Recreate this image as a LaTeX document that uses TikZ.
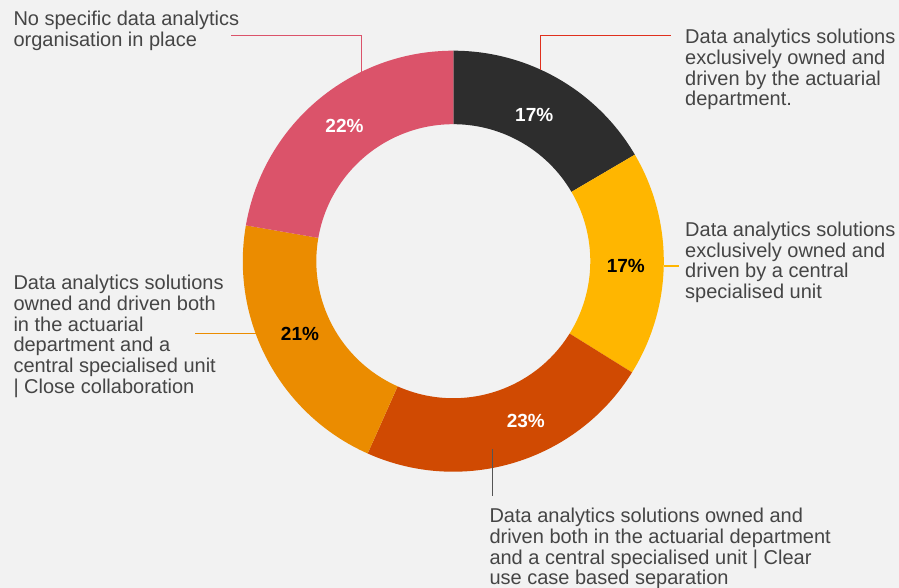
\documentclass[tikz,border=0pt]{standalone}
\usepackage{fontspec}
\setmainfont{Liberation Sans}
\usetikzlibrary{calc}
\definecolor{bg}{HTML}{F2F2F2}
\definecolor{cblack}{HTML}{2D2D2D}
\definecolor{cyellow}{HTML}{FFB600}
\definecolor{cdark}{HTML}{D04A02}
\definecolor{corange}{HTML}{EB8C00}
\definecolor{cpink}{HTML}{DB536A}
\definecolor{cred}{HTML}{E0301E}
\definecolor{txt}{HTML}{454545}
\definecolor{lgray}{HTML}{555555}
\begin{document}
\begin{tikzpicture}[x=1pt,y=1pt,
  lbl/.style={anchor=north west,inner sep=0pt,align=left,text=txt,font=\fontsize{20}{20.7}\selectfont},
  pct/.style={inner sep=0pt,font=\bfseries\fontsize{19}{20}\selectfont},
  lead/.style={line width=1.2pt}]
\fill[bg] (0,0) rectangle (899,588);
\useasboundingbox (0,0) rectangle (899,588);
\coordinate (C) at (453.3,326.8);
\def\Ro{210.5}\def\Ri{137}
\newcommand\slice[3]{%
  \fill[#3] ($(C)+(#1:\Ro)$) arc[start angle=#1,end angle=#2,radius=\Ro]
    -- ($(C)+(#2:\Ri)$) arc[start angle=#2,end angle=#1,radius=\Ri] -- cycle;}
\slice{90}{30.4}{cblack}
\slice{30.4}{-31.9}{cyellow}
\slice{-31.9}{-114}{cdark}
\slice{-114}{-189.8}{corange}
\slice{-189.8}{-270}{cpink}
% percentages
\node[pct,text=white] (p1) at (344.5,461.8) {22\%};
\node[pct,text=white] (p2) at (534.2,473) {17\%};
\node[pct,text=black] (p3) at (625.8,322.5) {17\%};
\node[pct,text=black] (p4) at (300,254.2) {21\%};
\node[pct,text=white] (p5) at (525.8,167.2) {23\%};
% labels
\node[lbl] (tl) at (13.3,577.3) {No specific data analytics\\organisation in place};
\node[lbl] (tr) at (685,559) {Data analytics solutions\\exclusively owned and\\driven by the actuarial\\department.};
\node[lbl] (rm) at (685,366.3) {Data analytics solutions\\exclusively owned and\\driven by a central\\specialised unit};
\node[lbl] (lm) at (13.3,313) {Data analytics solutions\\owned and driven both\\in the actuarial\\department and a\\central specialised unit\\| Close collaboration};
\node[lbl] (bt) at (489.3,80) {Data analytics solutions owned and\\driven both in the actuarial department\\and a central specialised unit | Clear\\use case based separation};
% leader lines
\coordinate (a1) at (361.7,516.3);
\coordinate (a1e) at (230.7,552.3);
\draw[lead,cpink] (a1) |- (a1e);
\coordinate (a2) at (540.7,518);
\coordinate (a2e) at (670.7,552.3);
\draw[lead,cred] (a2) |- (a2e);
\coordinate (a3) at (663.7,322);
\coordinate (a3e) at (679,322);
\draw[lead,cyellow] (a3) -- (a3e);
\coordinate (a4) at (255.5,254.7);
\coordinate (a4e) at (195,254.7);
\draw[lead,corange] (a4) -- (a4e);
\coordinate (a5) at (492.7,138.7);
\coordinate (a5e) at (492.7,92);
\draw[lead,lgray] (a5) -- (a5e);
\end{tikzpicture}
\end{document}
